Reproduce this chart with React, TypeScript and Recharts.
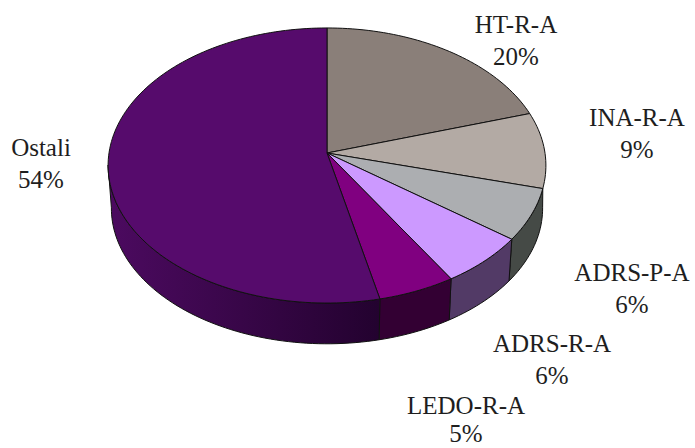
import { PieChart, Pie, Cell } from 'recharts'

const names = ['HT-R-A', 'INA-R-A', 'ADRS-P-A', 'ADRS-R-A', 'LEDO-R-A', 'Ostali']
// read from the slice edges, the labels show them rounded
const shares = [20.2, 8.9, 6.1, 6.0, 5.25, 53.55]

const topColors = ['#8a7f79', '#b3aaa4', '#acaeb1', '#cc99ff', '#800080', '#560b6c']
const wallColors = ['#5c5551', '#6f6a66', '#454a46', '#523a66', '#330033', 'url(#ostaliWall)']

// label centres relative to the pie centre, and the gap between the two lines
const labelOffsets = [
  [189, -120],
  [310, -27],
  [305, 128],
  [225, 199],
  [139, 261],
  [-286, 3],
]
const labelGaps = [32, 32, 32, 32, 28, 32]

const rows = names.map((name, i) => ({ name, value: shares[i] }))

// the tilted pie, fitted by eye
const SQUASH = 0.6257
const PERSPECTIVE = 0.0909
const WALL_SCALE = 0.985
const WALL_DROP = 43
const FRONT_RIGHT = -14.76
const FRONT_RIGHT_BOTTOM = -5
const FRONT_LEFT = -175

const project = (cx: number, cy: number, r: number, deg: number, wall = false) => {
  const a = (deg * Math.PI) / 180
  const w = 1 + PERSPECTIVE * Math.sin(a)
  const x = (r * Math.cos(a)) / w
  const y = (r * SQUASH * Math.sin(a)) / w
  const s = wall ? WALL_SCALE : 1
  return [cx + x * s, cy + (wall ? WALL_DROP : 0) - y * s]
}

const arc = (cx: number, cy: number, r: number, from: number, to: number, wall = false) => {
  const steps = Math.max(2, Math.ceil(Math.abs(from - to) / 1.5))
  const pts: string[] = []
  for (let i = 0; i <= steps; i++) {
    const [x, y] = project(cx, cy, r, from + ((to - from) * i) / steps, wall)
    pts.push(`${x.toFixed(2)} ${y.toFixed(2)}`)
  }
  return pts
}

function TiltedSlice(props: any) {
  const { cx, cy, outerRadius, startAngle, endAngle, fill, name } = props
  const hi = Math.max(startAngle, endAngle)
  const lo = Math.min(startAngle, endAngle)
  const from = Math.min(hi, FRONT_RIGHT)
  const to = Math.max(lo, FRONT_LEFT)
  const top = arc(cx, cy, outerRadius, hi, lo)
  let wall = null
  if (from - to > 0.01) {
    const bottomFrom = from >= FRONT_RIGHT - 0.1 ? FRONT_RIGHT_BOTTOM : from
    const upper = arc(cx, cy, outerRadius, from, to)
    const lower = arc(cx, cy, outerRadius, to, bottomFrom, true)
    wall = (
      <path
        d={`M${upper.join('L')}L${lower.join('L')}Z`}
        fill={wallColors[names.indexOf(name)]}
        stroke="#111"
        strokeWidth={1}
      />
    )
  }
  return (
    <g>
      <defs>
        <linearGradient id="ostaliWall" x1="0" y1="0" x2="1" y2="0">
          <stop offset="0%" stopColor="#4c0a60" />
          <stop offset="100%" stopColor="#23022f" />
        </linearGradient>
      </defs>
      {wall}
      <path
        d={`M${cx} ${cy}L${top.join('L')}Z`}
        fill={fill}
        stroke="#111"
        strokeWidth={1}
        strokeLinejoin="round"
      />
    </g>
  )
}

function SliceLabel(props: any) {
  const { cx, cy, name, value } = props
  const i = names.indexOf(name)
  const [dx, dy] = labelOffsets[i]
  return (
    <text
      x={cx + dx}
      y={cy + dy}
      textAnchor="middle"
      fill="#1e1e1e"
      fontFamily="'Liberation Serif', serif"
      fontSize={25}
    >
      <tspan x={cx + dx} dy="0">{name}</tspan>
      <tspan x={cx + dx} dy={labelGaps[i]}>{`${Math.round(value)}%`}</tspan>
    </text>
  )
}

export default function App() {
  return (
    <div style={{ position: 'absolute', left: 0, top: 0, width: 695, height: 448, background: '#fff' }}>
      <PieChart width={695} height={448} margin={{ top: 0, right: 0, bottom: 0, left: 0 }}>
        <Pie
          data={rows}
          dataKey="value"
          nameKey="name"
          cx={327}
          cy={153}
          innerRadius={0}
          outerRadius={218}
          startAngle={90}
          endAngle={-270}
          paddingAngle={0}
          stroke="none"
          shape={TiltedSlice}
          label={SliceLabel}
          labelLine={false}
          isAnimationActive={false}
        >
          {rows.map((row, i) => (
            <Cell key={row.name} fill={topColors[i]} />
          ))}
        </Pie>
      </PieChart>
    </div>
  )
}
